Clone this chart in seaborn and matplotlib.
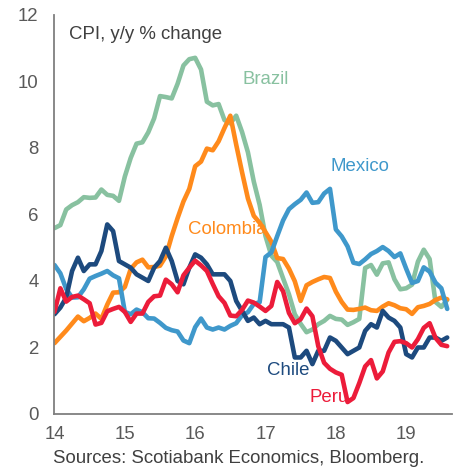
import numpy as np
import pandas as pd
import matplotlib
matplotlib.use("Agg")
import matplotlib.pyplot as plt
import seaborn as sns

# monthly, Jan 2014 - Aug 2019
brazil = [5.59, 5.68, 6.15, 6.28, 6.37, 6.52, 6.50, 6.51, 6.75, 6.59, 6.56, 6.41,
          7.14, 7.70, 8.13, 8.17, 8.47, 8.89, 9.56, 9.53, 9.49, 9.93, 10.48, 10.67,
          10.71, 10.36, 9.39, 9.28, 9.32, 8.84, 8.74, 8.97, 8.48, 7.87, 6.99, 6.29,
          5.35, 4.76, 4.57, 4.08, 3.60, 3.00, 2.71, 2.46, 2.54, 2.70, 2.80, 2.95,
          2.86, 2.84, 2.68, 2.76, 2.86, 4.39, 4.48, 4.19, 4.53, 4.56, 4.05, 3.75,
          3.78, 3.89, 4.58, 4.94, 4.66, 3.37, 3.22, 3.43]
colombia = [2.13, 2.32, 2.51, 2.72, 2.93, 2.79, 2.89, 3.02, 2.86, 3.29, 3.65, 3.66,
            3.82, 4.36, 4.56, 4.64, 4.41, 4.42, 4.46, 4.74, 5.35, 5.89, 6.39, 6.77,
            7.45, 7.59, 7.98, 7.93, 8.20, 8.60, 8.97, 8.10, 7.27, 6.48, 5.96, 5.75,
            5.47, 5.18, 4.69, 4.66, 4.37, 3.99, 3.40, 3.87, 3.97, 4.05, 4.12, 4.09,
            3.68, 3.37, 3.14, 3.13, 3.16, 3.20, 3.12, 3.10, 3.23, 3.33, 3.27, 3.18,
            3.15, 3.01, 3.21, 3.25, 3.31, 3.43, 3.50, 3.45]
mexico = [4.48, 4.23, 3.76, 3.50, 3.51, 3.75, 4.07, 4.15, 4.22, 4.30, 4.17, 4.08,
          3.07, 3.00, 3.14, 3.06, 2.88, 2.87, 2.74, 2.59, 2.52, 2.48, 2.21, 2.13,
          2.61, 2.87, 2.60, 2.54, 2.60, 2.54, 2.65, 2.73, 2.97, 3.06, 3.31, 3.36,
          4.72, 4.86, 5.35, 5.82, 6.16, 6.31, 6.44, 6.66, 6.35, 6.37, 6.63, 6.77,
          5.55, 5.34, 5.04, 4.55, 4.51, 4.65, 4.81, 4.90, 5.02, 4.90, 4.72, 4.83,
          4.37, 3.94, 4.00, 4.41, 4.28, 3.95, 3.78, 3.16]
chile = [3.0, 3.2, 3.5, 4.3, 4.7, 4.3, 4.5, 4.5, 4.9, 5.7, 5.5, 4.6,
         4.5, 4.4, 4.2, 4.1, 4.0, 4.4, 4.6, 5.0, 4.6, 4.0, 3.9, 4.4,
         4.8, 4.7, 4.5, 4.2, 4.2, 4.2, 4.0, 3.4, 3.1, 2.8, 2.9, 2.7,
         2.8, 2.7, 2.7, 2.7, 2.6, 1.7, 1.7, 1.9, 1.5, 1.9, 1.9, 2.3,
         2.2, 2.0, 1.8, 1.9, 2.0, 2.5, 2.7, 2.6, 3.1, 2.9, 2.8, 2.6,
         1.8, 1.7, 2.0, 2.0, 2.3, 2.3, 2.2, 2.3]
peru = [3.07, 3.78, 3.38, 3.52, 3.56, 3.45, 3.33, 2.69, 2.74, 3.09, 3.16, 3.22,
        3.07, 2.77, 3.02, 3.02, 3.37, 3.54, 3.56, 4.04, 3.90, 3.66, 4.17, 4.40,
        4.61, 4.47, 4.30, 3.91, 3.54, 3.34, 2.96, 2.94, 3.13, 3.41, 3.35, 3.23,
        3.10, 3.25, 3.97, 3.69, 3.04, 2.73, 2.85, 3.17, 2.94, 2.04, 1.54, 1.36,
        1.25, 1.18, 0.36, 0.48, 0.93, 1.43, 1.62, 1.07, 1.28, 1.85, 2.17, 2.19,
        2.13, 2.00, 2.25, 2.59, 2.73, 2.29, 2.08, 2.04]

countries = ["Brazil", "Colombia", "Mexico", "Chile", "Peru"]
colors = ["#88C1A0", "#FF8A1B", "#3F98CB", "#1D4A7E", "#EC1C3A"]
series = [brazil, colombia, mexico, chile, peru]
x_ticks = [14, 15, 16, 17, 18, 19]
y_ticks = [0, 2, 4, 6, 8, 10, 12]

months = 14 + np.arange(len(brazil)) / 12
df = pd.concat([pd.DataFrame({"date": months, "cpi": s, "country": c})
                for c, s in zip(countries, series)])

sns.set_style("white")
plt.rcParams["font.family"] = ["Liberation Sans", "DejaVu Sans"]
fs = 13.4

fig = plt.figure(figsize=(4.56, 4.67), dpi=100)
ax = fig.add_axes([0.1195, 0.1135, 0.8715, 0.8545])
sns.lineplot(data=df, x="date", y="cpi", hue="country", hue_order=countries,
             palette=colors, linewidth=3.3, legend=False, ax=ax)

ax.set_xlim(14, 19.65)
ax.set_ylim(0, 12)
ax.set_xticks(x_ticks)
ax.set_yticks(y_ticks)
ax.set_xlabel("")
ax.set_ylabel("")
sns.despine(ax=ax)
for side in ["left", "bottom"]:
    ax.spines[side].set_color("#7f7f7f")
    ax.spines[side].set_linewidth(1.3)
ax.tick_params(direction="in", length=5, width=1.3, color="#7f7f7f",
               labelsize=fs, labelcolor="#595959")
ax.tick_params(axis="y", pad=11.5)
ax.tick_params(axis="x", pad=9)

ax.text(14.2, 11.4, "CPI, y/y % change", fontsize=fs, color="#404040", va="center")
labels = {"Brazil": (17.0, 10.05), "Colombia": (16.45, 5.55), "Mexico": (18.34, 7.43),
          "Chile": (17.33, 1.3), "Peru": (17.9, 0.5)}
for c, col in zip(countries, colors):
    lx, ly = labels[c]
    ax.text(lx, ly, c, fontsize=fs, color=col, ha="center", va="center")

fig.text(0.116, 0.009, "Sources: Scotiabank Economics, Bloomberg.", fontsize=fs,
         color="#404040")

fig.savefig("out.png", dpi=100)
